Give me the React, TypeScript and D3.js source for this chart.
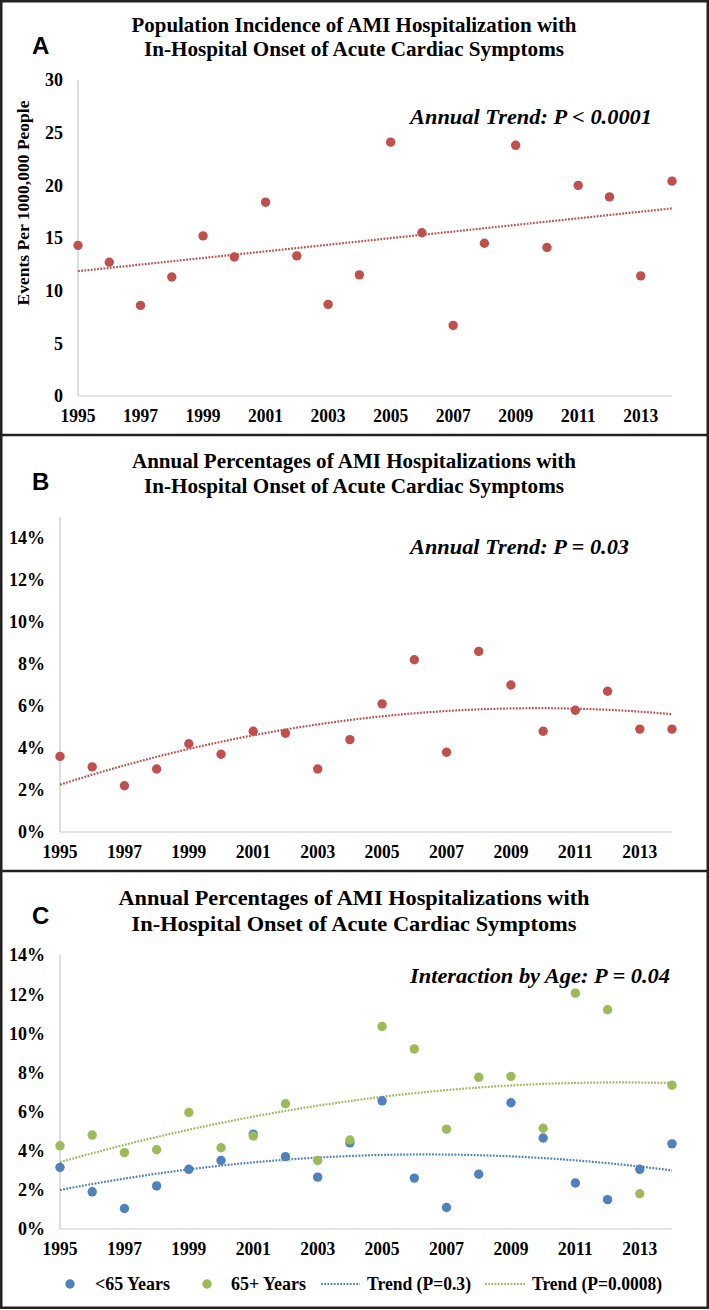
import React from 'react';
import * as d3 from 'd3';

// ---------- data ----------
const years = [1995, 1996, 1997, 1998, 1999, 2000, 2001, 2002, 2003, 2004, 2005, 2006, 2007, 2008, 2009, 2010, 2011, 2012, 2013, 2014];
const xTickYears = [1995, 1997, 1999, 2001, 2003, 2005, 2007, 2009, 2011, 2013];

// Panel A: events per 1000,000 people
const incidence = [14.3, 12.7, 8.6, 11.3, 15.2, 13.2, 18.4, 13.3, 8.7, 11.5, 24.1, 15.5, 6.7, 14.5, 23.8, 14.1, 20.0, 18.9, 11.4, 20.4];
const yTicksA = [0, 5, 10, 15, 20, 25, 30];

// Panel B: annual percentages (%)
const pctAll = [3.6, 3.1, 2.2, 3.0, 4.2, 3.7, 4.8, 4.7, 3.0, 4.4, 6.1, 8.2, 3.8, 8.6, 7.0, 4.8, 5.8, 6.7, 4.9, 4.9];
// Panel C: by age (%)
const pctUnder65 = [3.15, 1.9, 1.05, 2.2, 3.05, 3.5, 4.85, 3.7, 2.65, 4.4, 6.55, 2.6, 1.1, 2.8, 6.45, 4.65, 2.35, 1.5, 3.05, 4.35];
const pct65Plus = [4.25, 4.8, 3.9, 4.05, 5.95, 4.15, 4.75, 6.4, 3.5, 4.55, 10.35, 9.2, 5.1, 7.75, 7.8, 5.15, 12.05, 11.2, 1.8, 7.35];
const yTicksPct = [0, 2, 4, 6, 8, 10, 12, 14];

const titleLine1A = 'Population Incidence of AMI Hospitalization with';
const titleLine1B = 'Annual Percentages of AMI Hospitalizations with';
const titleLine2 = 'In-Hospital Onset of Acute Cardiac Symptoms';
const legendLabels = ['<65 Years', '65+ Years', 'Trend (P=0.3)', 'Trend (P=0.0008)'];

// ---------- styles ----------
const RED = '#C0504D';
const BLUE = '#4F81BD';
const GREEN = '#9BBB59';
const AXIS = '#C8C8C8';
const SERIF = '"Liberation Serif", "Times New Roman", serif';
const SANS = '"Liberation Sans", Arial, sans-serif';

// least-squares polynomial fit (like an Excel trendline)
function polyFit(xs: number[], ys: number[], deg: number): number[] {
  const n = deg + 1;
  const A: number[][] = Array.from({ length: n }, () => new Array(n + 1).fill(0));
  for (let k = 0; k < xs.length; k++) {
    for (let i = 0; i < n; i++) {
      for (let j = 0; j < n; j++) A[i][j] += Math.pow(xs[k], i + j);
      A[i][n] += ys[k] * Math.pow(xs[k], i);
    }
  }
  for (let i = 0; i < n; i++) {
    let p = i;
    for (let r = i + 1; r < n; r++) if (Math.abs(A[r][i]) > Math.abs(A[p][i])) p = r;
    const tmp = A[i];
    A[i] = A[p];
    A[p] = tmp;
    for (let r = 0; r < n; r++) {
      if (r === i) continue;
      const f = A[r][i] / A[i][i];
      for (let c = i; c <= n; c++) A[r][c] -= f * A[i][c];
    }
  }
  return A.map((row, i) => row[n] / row[i]);
}

function trendPath(vals: number[], deg: number, x: d3.ScaleLinear<number, number>, y: d3.ScaleLinear<number, number>) {
  const t = years.map((yr) => yr - years[0]);
  const coef = polyFit(t, vals, deg);
  const f = (tt: number) => coef.reduce((s, c, i) => s + c * Math.pow(tt, i), 0);
  const last = years[years.length - 1] - years[0];
  const pts: [number, number][] = [];
  for (let s = 0; s <= 100; s++) {
    const tt = (last * s) / 100;
    pts.push([x(tt + years[0]), y(f(tt))]);
  }
  return d3.line()(pts) as string;
}

interface PanelProps {
  letter: string;
  letterY: number;
  title1: string;
  title2: string;
  t1y: number;
  t2y: number;
  t1len: number;
  t2len: number;
  titleSize: number;
  x: d3.ScaleLinear<number, number>;
  y: d3.ScaleLinear<number, number>;
  yTicks: number[];
  yFmt: (v: number) => string;
  note: string;
  noteY: number;
  noteLen: number;
  children?: React.ReactNode;
}

function Panel(p: PanelProps) {
  const [x0, x1] = p.x.range();
  const y0 = p.y(0);
  const yTop = p.y.range()[1];
  return (
    <g>
      <text x={32} y={p.letterY} fontFamily={SANS} fontWeight="bold" fontSize={24} fill="#000">{p.letter}</text>
      <text x={354} y={p.t1y} textAnchor="middle" fontFamily={SERIF} fontWeight="bold" fontSize={p.titleSize} textLength={p.t1len} lengthAdjust="spacingAndGlyphs">{p.title1}</text>
      <text x={354} y={p.t2y} textAnchor="middle" fontFamily={SERIF} fontWeight="bold" fontSize={p.titleSize} textLength={p.t2len} lengthAdjust="spacingAndGlyphs">{p.title2}</text>
      <line x1={x0} x2={x0} y1={y0} y2={yTop} stroke={AXIS} strokeWidth={1.2} />
      <line x1={x0} x2={x1} y1={y0} y2={y0} stroke={AXIS} strokeWidth={1.2} />
      {p.yTicks.map((v) => (
        <text key={v} x={x0 - 15} y={p.y(v)} dy="0.36em" textAnchor="end" fontFamily={SERIF} fontWeight="bold" fontSize={18}>{p.yFmt(v)}</text>
      ))}
      {xTickYears.map((yr) => (
        <text key={yr} x={p.x(yr)} y={y0 + 26} textAnchor="middle" fontFamily={SERIF} fontWeight="bold" fontSize={18} textLength={35} lengthAdjust="spacingAndGlyphs">{yr}</text>
      ))}
      <text x={410} y={p.noteY} fontFamily={SERIF} fontWeight="bold" fontStyle="italic" fontSize={22} textLength={p.noteLen} lengthAdjust="spacingAndGlyphs">{p.note}</text>
      {p.children}
    </g>
  );
}

function Dots({ vals, x, y, color }: { vals: number[]; x: d3.ScaleLinear<number, number>; y: d3.ScaleLinear<number, number>; color: string }) {
  return (
    <g>
      {vals.map((v, i) => (
        <circle key={i} cx={x(years[i])} cy={y(v)} r={4.7} fill={color} />
      ))}
    </g>
  );
}

export default function App() {
  const W = 709;
  const H = 1310;

  const xA = d3.scaleLinear().domain([1995, 2014]).range([78, 672]);
  const yA = d3.scaleLinear().domain([0, 30]).range([396, 80]);

  const xB = d3.scaleLinear().domain([1995, 2014]).range([60, 672]);
  const yB = d3.scaleLinear().domain([0, 15]).range([832, 517]);

  const xC = d3.scaleLinear().domain([1995, 2014]).range([60, 672]);
  const yC = d3.scaleLinear().domain([0, 14]).range([1229, 955]);

  const pctFmt = (v: number) => `${v}%`;
  const dash = '1.8 1.4';
  const lw = 2.2;

  return (
    <svg width={W} height={H} style={{ position: 'absolute', left: 0, top: 0, background: '#fff' }}>
      <rect x={0} y={0} width={W} height={H} fill="#fff" />

      {/* Panel A */}
      <Panel letter="A" letterY={54} title1={titleLine1A} title2={titleLine2} t1y={32} t2y={56} t1len={445} t2len={420} titleSize={21}
        x={xA} y={yA} yTicks={yTicksA} yFmt={(v) => String(v)} note="Annual Trend: P < 0.0001" noteY={124} noteLen={242}>
        <text transform="translate(29,203) rotate(-90)" textAnchor="middle" fontFamily={SERIF} fontWeight="bold" fontSize={16} textLength={205} lengthAdjust="spacingAndGlyphs">Events Per 1000,000 People</text>
        <path d={trendPath(incidence, 1, xA, yA)} fill="none" stroke={RED} strokeWidth={lw} strokeDasharray={dash} />
        <Dots vals={incidence} x={xA} y={yA} color={RED} />
      </Panel>

      {/* Panel B */}
      <Panel letter="B" letterY={490} title1={titleLine1B} title2={titleLine2} t1y={468} t2y={493} t1len={444} t2len={420} titleSize={21}
        x={xB} y={yB} yTicks={yTicksPct} yFmt={pctFmt} note="Annual Trend: P = 0.03" noteY={554} noteLen={219}>
        <path d={trendPath(pctAll, 2, xB, yB)} fill="none" stroke={RED} strokeWidth={lw} strokeDasharray={dash} />
        <Dots vals={pctAll} x={xB} y={yB} color={RED} />
      </Panel>

      {/* Panel C */}
      <Panel letter="C" letterY={924} title1={titleLine1B} title2={titleLine2} t1y={905} t2y={931} t1len={471} t2len={445} titleSize={22}
        x={xC} y={yC} yTicks={yTicksPct} yFmt={pctFmt} note="Interaction by Age: P = 0.04" noteY={983} noteLen={260}>
        <path d={trendPath(pctUnder65, 2, xC, yC)} fill="none" stroke={BLUE} strokeWidth={lw} strokeDasharray={dash} />
        <path d={trendPath(pct65Plus, 2, xC, yC)} fill="none" stroke={GREEN} strokeWidth={lw} strokeDasharray={dash} />
        <Dots vals={pctUnder65} x={xC} y={yC} color={BLUE} />
        <Dots vals={pct65Plus} x={xC} y={yC} color={GREEN} />
        {/* legend */}
        <circle cx={70} cy={1284} r={4.7} fill={BLUE} />
        <text x={95} y={1290} fontFamily={SERIF} fontWeight="bold" fontSize={18} textLength={75} lengthAdjust="spacingAndGlyphs">{legendLabels[0]}</text>
        <circle cx={207} cy={1284} r={4.7} fill={GREEN} />
        <text x={231} y={1290} fontFamily={SERIF} fontWeight="bold" fontSize={18} textLength={75} lengthAdjust="spacingAndGlyphs">{legendLabels[1]}</text>
        <line x1={321} x2={360} y1={1284} y2={1284} stroke={BLUE} strokeWidth={lw} strokeDasharray={dash} />
        <text x={367} y={1290} fontFamily={SERIF} fontWeight="bold" fontSize={18} textLength={104} lengthAdjust="spacingAndGlyphs">{legendLabels[2]}</text>
        <line x1={485} x2={525} y1={1284} y2={1284} stroke={GREEN} strokeWidth={lw} strokeDasharray={dash} />
        <text x={532} y={1290} fontFamily={SERIF} fontWeight="bold" fontSize={18} textLength={130} lengthAdjust="spacingAndGlyphs">{legendLabels[3]}</text>
      </Panel>

      {/* frame and dividers */}
      <rect x={1.25} y={1.25} width={W - 2.5} height={H - 3.5} fill="none" stroke="#222" strokeWidth={2.5} />
      <line x1={0} x2={W} y1={435} y2={435} stroke="#222" strokeWidth={2.5} />
      <line x1={0} x2={W} y1={871} y2={871} stroke="#222" strokeWidth={2.5} />
    </svg>
  );
}
